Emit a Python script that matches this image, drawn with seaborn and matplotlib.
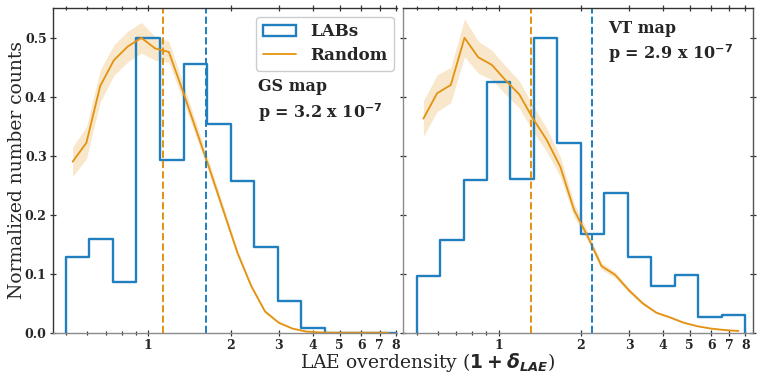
import numpy as np
import pandas as pd
import matplotlib
matplotlib.use("Agg")
import matplotlib.pyplot as plt
import seaborn as sns
from matplotlib.patches import Patch
from matplotlib.lines import Line2D

# ---------------- data ----------------
bin_edges = [0.5, 0.6095, 0.7430, 0.9057, 1.1041, 1.3459, 1.6407, 2.0,
             2.4380, 2.9720, 3.6229, 4.4164, 5.3836, 6.5627, 8.0]
labs_gs = [0.129, 0.159, 0.086, 0.500, 0.292, 0.456, 0.354, 0.258,
           0.145, 0.054, 0.0085, 0.0, 0.0, 0.0]
labs_vt = [0.096, 0.158, 0.259, 0.425, 0.261, 0.500, 0.322, 0.168,
           0.237, 0.129, 0.080, 0.098, 0.027, 0.030]

rand_x = [0.5297, 0.5946, 0.6674, 0.7492, 0.8409, 0.9439, 1.0595, 1.1892,
          1.3348, 1.4983, 1.6818, 1.8877, 2.1189, 2.3784, 2.6697, 2.9966,
          3.3636, 3.7755, 4.2379, 4.7568, 5.3394, 5.9932, 6.7272, 7.5510]
rand_gs = [0.290, 0.322, 0.418, 0.462, 0.485, 0.500, 0.482, 0.476,
           0.411, 0.343, 0.275, 0.205, 0.135, 0.079, 0.036, 0.017,
           0.007, 0.002, 0.0005, 0.0, 0.0, 0.0, 0.0, 0.0]
err_gs = [0.025, 0.027, 0.027, 0.026, 0.026, 0.026, 0.020, 0.018,
          0.015, 0.012, 0.010, 0.008, 0.006, 0.004, 0.003, 0.002,
          0.001, 0.001, 0.0005, 0.0, 0.0, 0.0, 0.0, 0.0]
rand_vt = [0.363, 0.406, 0.420, 0.500, 0.467, 0.454, 0.428, 0.404,
           0.363, 0.327, 0.281, 0.208, 0.163, 0.113, 0.098, 0.072,
           0.050, 0.034, 0.026, 0.017, 0.011, 0.007, 0.0045, 0.003]
err_vt = [0.030, 0.031, 0.030, 0.032, 0.027, 0.025, 0.024, 0.023,
          0.022, 0.020, 0.017, 0.012, 0.008, 0.006, 0.005, 0.004,
          0.003, 0.002, 0.002, 0.0015, 0.001, 0.001, 0.001, 0.001]

median_gs = {"Random": 1.13, "LABs": 1.63}
median_vt = {"Random": 1.315, "LABs": 2.20}
panel_text = ["GS map\np = 3.2 x 10$^{-7}$",
              "VT map\np = 2.9 x 10$^{-7}$"]

major_ticks = [1, 2, 3, 4, 5, 6, 7, 8]
minor_ticks = [0.5, 0.6, 0.7, 0.8, 0.9]
y_ticks = [0.0, 0.1, 0.2, 0.3, 0.4, 0.5]

# ---------------- style ----------------
sns.set_style("ticks")
plt.rcParams["font.family"] = ["DejaVu Serif"]
plt.rcParams["font.weight"] = "bold"
plt.rcParams["mathtext.fontset"] = "custom"
plt.rcParams["mathtext.rm"] = "DejaVu Sans:bold"
plt.rcParams["mathtext.bf"] = "DejaVu Sans:bold"
plt.rcParams["mathtext.it"] = "DejaVu Sans:italic:bold"

blue = "#1f7fbf"
orange = "#e39212"
dark = "#333333"
grey = "#8a8a8a"

W, H = 761, 377
fig = plt.figure(figsize=(W / 100, H / 100), dpi=100)
top, bottom = 8.3, 332.7
axL = fig.add_axes([53 / W, 1 - bottom / H, (397 - 53) / W, (bottom - top) / H])
axR = fig.add_axes([403 / W, 1 - bottom / H, (752.5 - 403) / W, (bottom - top) / H])

edges = np.array(bin_edges)
centers = np.sqrt(edges[:-1] * edges[1:])

def draw(ax, labs, rand, err, med, txt, xlim, txtpos):
    df = pd.DataFrame({"x": centers, "w": labs})
    sns.histplot(data=df, x="x", weights="w", bins=list(bin_edges),
                 element="step", fill=False, color=blue, linewidth=1.7, ax=ax)
    ax.vlines([edges[0], edges[-1]], 0, [labs[0], labs[-1]],
              color=blue, linewidth=1.7)
    r = np.array(rand)
    e = np.array(err)
    ax.fill_between(rand_x, r - e, r + e, color=orange, alpha=0.22,
                    linewidth=0)
    sns.lineplot(x=rand_x, y=rand, color=orange, linewidth=1.3, ax=ax)
    ax.axvline(med["Random"], color=orange, ls="--", lw=1.4)
    ax.axvline(med["LABs"], color=blue, ls="--", lw=1.4)
    ax.set_xscale("log")
    ax.set_xlim(*xlim)
    ax.set_ylim(0, 0.55)
    ax.set_xticks(major_ticks, labels=[str(t) for t in major_ticks],
                  fontweight="bold")
    ax.set_xticks(minor_ticks, minor=True)
    ax.set_xticklabels([], minor=True)
    ax.set_yticks(y_ticks, labels=[f"{t:.1f}" for t in y_ticks],
                  fontweight="bold")
    ax.set_xlabel("")
    ax.set_ylabel("")
    ax.tick_params(which="both", direction="inout", length=5, width=0.9,
                   top=True, color=dark, labelsize=9, pad=2)
    ax.tick_params(which="minor", length=3.5)
    ax.text(txtpos[0], txtpos[1], txt, transform=ax.transAxes,
            fontsize=11.5, fontweight="bold", va="top", ha="left",
            linespacing=1.35)

draw(axL, labs_gs, rand_gs, err_gs, median_gs, panel_text[0],
     (0.449, 8.1), (0.596, 0.785))
draw(axR, labs_vt, rand_vt, err_vt, median_vt, panel_text[1],
     (0.446, 8.5), (0.587, 0.965))

for s in ["left", "top"]:
    axL.spines[s].set_color(dark)
axL.spines["bottom"].set_color(grey)
axL.spines["right"].set_visible(False)
axR.spines["left"].set_color(grey)
axR.spines["bottom"].set_color(grey)
axR.spines["top"].set_color(dark)
axR.spines["right"].set_color("#555555")
for ax in (axL, axR):
    for s in ax.spines.values():
        s.set_linewidth(1.0)
axR.tick_params(axis="y", which="both", right=True, labelleft=False)
axR.tick_params(axis="y", which="both", right=True, direction="inout")

handles = [Patch(facecolor="none", edgecolor=blue, linewidth=1.7),
           Line2D([0], [0], color=orange, lw=1.3)]
axL.legend(handles, ["LABs", "Random"], loc="upper right",
           prop={"weight": "bold", "size": 12}, framealpha=1,
           handlelength=2.0, borderpad=0.4, labelspacing=0.4,
           handletextpad=0.8, bbox_to_anchor=(1.0 + 5 / 344, 1.0))

fig.text(17 / W, 1 - 170 / H, "Normalized number counts", rotation=90,
         ha="center", va="center", fontsize=13.5, fontweight="normal")
fig.text(428 / W, 1 - 363 / H,
         "LAE overdensity ($1 + \\delta_{LAE}$)",
         ha="center", va="center", fontsize=13.5, fontweight="normal")

fig.savefig("out.png", dpi=100)
